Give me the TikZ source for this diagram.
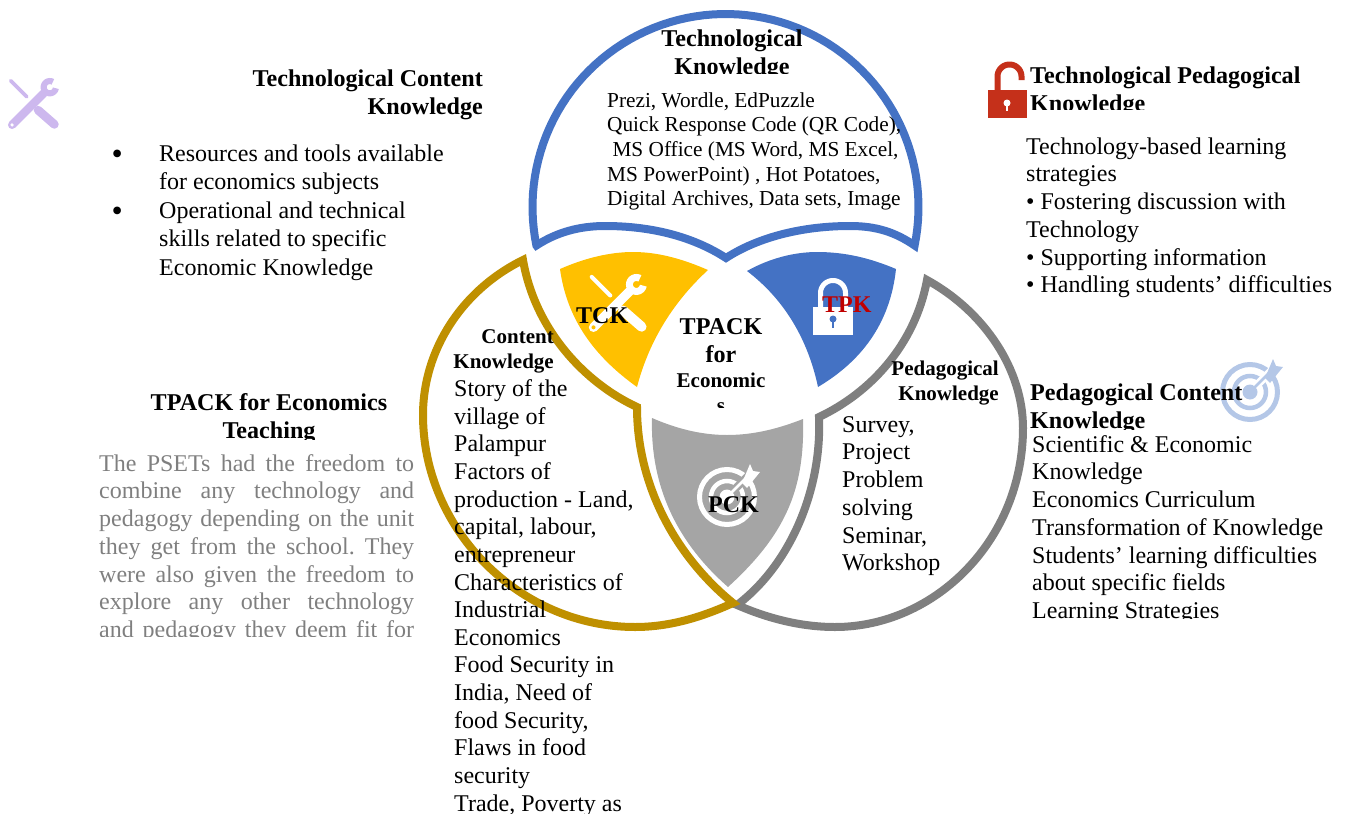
\documentclass[tikz,border=0pt]{standalone}
\usepackage{fontspec}
\setmainfont{Liberation Serif}
\frenchspacing
\definecolor{cblue}{HTML}{4472C4}
\definecolor{cgold}{HTML}{BF9000}
\definecolor{cgrey}{HTML}{7F7F7F}
\definecolor{cyel}{HTML}{FFC000}
\definecolor{cshield}{HTML}{A5A5A5}
\definecolor{cred}{HTML}{C00000}
\definecolor{clockred}{HTML}{C5301A}
\definecolor{clav}{HTML}{CDB8EE}
\definecolor{cpale}{HTML}{B4C7E7}
\newcommand\fl{\rule{0pt}{18pt}}
\newcommand\jl[1]{\makebox[315pt][s]{#1}}
\newcommand\toolicon[5]{%
  \begin{scope}[shift={(#1,#2)},x=#3pt,y=-#3pt,line cap=round]
    \draw[#4,line width=0.07*#3pt] (0.03,0.05) -- (0.35,0.37);
    \draw[#4,line width=0.17*#3pt] (0.57,0.63) -- (0.89,0.91);
    \draw[#4,line width=0.16*#3pt] (0.06,0.92) -- (0.68,0.3);
    \draw[#4,line width=0.12*#3pt,line cap=butt] plot[domain=10:300,samples=30] ({0.8+0.12*cos(\x)},{0.18+0.12*sin(\x)});
    \fill[#5] (0.06,0.92) circle[radius=0.035];
  \end{scope}}
\newcommand\targeticon[4]{%
  \begin{scope}[shift={(#1,#2)}]
    \draw[#3,line width=5pt] (0,0) circle[radius=27.5];
    \draw[#3,line width=4.5pt] (0,0) circle[radius=16];
    \fill[#3] (0,0) circle[radius=7.5];
    \draw[#4,line width=8pt] (5,-5) -- (27,-27);
    \draw[#3,line width=2.6pt] (0,0) -- (22,-22);
    \fill[#3] (15,-14) -- (23,-33) -- (26,-26) -- (33,-25) -- (20,-9) -- cycle;
  \end{scope}}
\tikzset{
  bodyf/.style={font=\fontsize{24}{27.7}\selectfont},
  longf/.style={font=\fontsize{24}{27.62}\selectfont},
  bullf/.style={font=\fontsize{24}{28.5}\selectfont},
  bigdot/.style={inner sep=0pt,anchor=base west,font=\fontsize{32}{32}\selectfont},
  smallf/.style={font=\fontsize{21.3}{24.6}\selectfont},
  headf/.style={font=\fontsize{24.1}{28}\selectfont\bfseries},
  subf/.style={font=\fontsize{21}{24.8}\selectfont\bfseries},
  txt/.style={inner sep=0pt,anchor=north west,align=left},
  txtc/.style={inner sep=0pt,anchor=north,align=center},
  txtr/.style={inner sep=0pt,anchor=north east,align=right},
  lab/.style={inner sep=0pt,anchor=base west,font=\fontsize{24}{27}\selectfont\bfseries},
  ring/.style={line width=8pt,line join=miter,miter limit=10}
}
\begin{document}
\begin{tikzpicture}[x=1pt,y=-1pt]
\useasboundingbox (0,0) rectangle (1345,814);
% segments
\fill[cyel] (560,269) .. controls (585,258) and (610,252) .. (633,252) .. controls (660,252) and (685,260) .. (708,270) .. controls (670,305) and (648,345) .. (637,387) .. controls (595,357) and (567,320) .. (560,269) -- cycle;
\fill[cblue] (747,271) .. controls (770,258) and (795,252) .. (817,252) .. controls (845,252) and (870,258) .. (896,269) .. controls (890,325) and (860,362) .. (818,387) .. controls (808,340) and (785,300) .. (747,271) -- cycle;
\fill[cshield] (652,418) .. controls (675,428) and (700,435) .. (727,435) .. controls (755,435) and (780,428) .. (803,419) .. controls (805,490) and (785,535) .. (728,587) .. controls (680,545) and (650,490) .. (652,418) -- cycle;
% outlines
\draw[ring,draw=cblue] plot[domain=168.5:371.5,samples=80] ({725.5+193*cos(\x)},{207+193*sin(\x)})
  .. controls (895,232) and (876,226) .. (850,226) .. controls (805,226) and (760,236) .. (726,258)
  .. controls (692,236) and (650,226) .. (605,226) .. controls (580,226) and (557,232) .. (536.4,245.5) -- cycle;
\draw[ring,draw=cgrey] (927,280) .. controls (985,312) and (1023,370) .. (1023,428)
  .. controls (1023,540) and (935,627) .. (835,627) .. controls (800,627) and (767,618) .. (737,605)
  .. controls (790,565) and (822,490) .. (819,417)
  .. controls (870,393) and (915,345) .. (927,280) -- cycle;
\draw[ring,draw=cgold] (523,260) .. controls (462,290) and (423,350) .. (423,415)
  .. controls (423,530) and (520,627) .. (635,627) .. controls (670,627) and (702,617) .. (733,603)
  .. controls (680,560) and (637,490) .. (637,407)
  .. controls (585,383) and (535,330) .. (523,260) -- cycle;
% icons
\toolicon{9}{78}{51}{clav}{white}
\toolicon{590}{274}{58}{white}{cyel}
\fill[white] (813,307) rectangle (853,335);
\draw[white,line width=5pt] (820.5,307) -- plot[domain=180:360,samples=30] ({833+12.5*cos(\x)},{293+12.5*sin(\x)}) -- (845.5,307);
\fill[cblue] (833,319) circle[radius=3.5];
\fill[cblue] (832,319) rectangle (834,328);
\fill[clockred] (988,90) rectangle (1027,118);
\draw[clockred,line width=6pt] (997.5,90) -- plot[domain=180:360,samples=30] ({1009.5+12*cos(\x)},{76.5+12*sin(\x)}) -- (1021.5,80);
\fill[white] (1007,103) circle[radius=3.5];
\fill[white] (1006,103) rectangle (1008,111);
\targeticon{727}{497}{white}{cshield}
\targeticon{1250}{392}{cpale}{white}
% top circle text
\begin{scope}
  \clip (600,0) rectangle (870,73);
  \node[txtc,headf] (tktitle) at (732,28) {\fl Technological\\Knowledge};
\end{scope}
\node[txt,smallf] (tkbody) at (607,89) {\fl Prezi, Wordle, EdPuzzle\\Quick Response Code (QR Code),\\\ MS Office (MS Word, MS Excel,\\MS PowerPoint) , Hot Potatoes,\\Digital Archives, Data sets, Image};
% top left
\node[txtr,headf] (tcktitle) at (483,68) {\fl Technological Content\\Knowledge};
\node[bigdot] (tckb1) at (111.5,164) {\textbullet};
\node[bigdot] (tckb2) at (111.5,221) {\textbullet};
\node[txt,bullf] (tckbody) at (159,143) {\fl Resources and tools available\\for economics subjects\\Operational and technical\\skills related to specific\\Economic Knowledge};
% left
\begin{scope}
  \clip (100,380) rectangle (440,439);
  \node[txtc,headf] (ectitle) at (269,392) {\fl TPACK for Economics\\Teaching};
\end{scope}
\begin{scope}
  \clip (90,445) rectangle (420,636);
  \node[txt,bodyf,cgrey] (ecbody) at (99,453) {\fl\jl{The PSETs had the freedom to}\\\jl{combine any technology and}\\\jl{pedagogy depending on the unit}\\\jl{they get from the school. They}\\\jl{were also given the freedom to}\\\jl{explore any other technology}\\\jl{and pedagogy they deem fit for}};
\end{scope}
% content
\node[txtr,subf] (cktitle) at (554,325) {\fl Content\\Knowledge};
\begin{scope}
  \clip (440,370) rectangle (700,814);
  \node[txt,longf] (ckbody) at (454,378.5) {\fl Story of the\\village of\\Palampur\\Factors of\\production - Land,\\capital, labour,\\entrepreneur\\Characteristics of\\Industrial\\Economics\\Food Security in\\India, Need of\\food Security,\\Flaws in food\\security\\Trade, Poverty as};
\end{scope}
% pedagogical
\node[txtr,subf] (pktitle) at (999,357) {\fl Pedagogical\\Knowledge};
\node[txt,bodyf] (pkbody) at (842,414) {\fl Survey,\\Project\\Problem\\solving\\Seminar,\\Workshop};
% right top
\begin{scope}
  \clip (1025,50) rectangle (1320,109);
  \node[txt,headf] (tpktitle) at (1030,65) {\fl Technological Pedagogical\\Knowledge};
\end{scope}
\node[txt,bodyf] (tpkbody) at (1026,136) {\fl Technology-based learning\\strategies\\\textbullet{} Fostering discussion with\\Technology\\\textbullet{} Supporting information\\\textbullet{} Handling students’ difficulties};
% right bottom
\begin{scope}
  \clip (1025,375) rectangle (1320,429);
  \node[txt,headf] (pcktitle) at (1030,382) {\fl Pedagogical Content\\Knowledge};
\end{scope}
\begin{scope}
  \clip (1025,430) rectangle (1340,618);
  \node[txt,bodyf] (pckbody) at (1032,434) {\fl Scientific \& Economic\\Knowledge\\Economics Curriculum\\Transformation of Knowledge\\Students’ learning difficulties\\about specific fields\\Learning Strategies};
\end{scope}
% centre
\node[txtc,headf] (centre) at (721,316) {\fl TPACK\\for};
\begin{scope}
  \clip (660,368) rectangle (780,407);
  \node[txtc,subf] (centre2) at (721,369) {\fl Economic\\s};
\end{scope}
\node[lab] (tck) at (576,323) {TCK};
\node[lab,cred] (tpk) at (822,312) {TPK};
\node[lab] (pck) at (708,512) {PCK};
\end{tikzpicture}
\end{document}
